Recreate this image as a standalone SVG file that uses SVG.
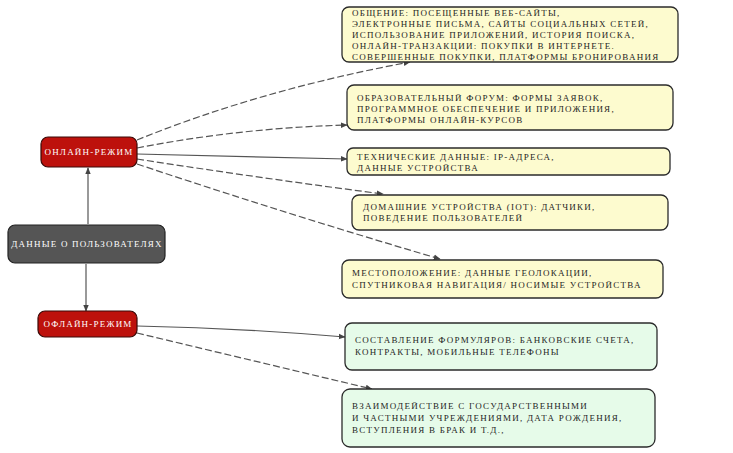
<svg xmlns="http://www.w3.org/2000/svg" width="733" height="453" viewBox="0 0 733 453">
<style>
.box{stroke:#2b2b2b;stroke-width:1.3}
.y{fill:#fdfbcf}
.g{fill:#e6fbe9}
.red{fill:#bd110c;stroke:#3a0a08;stroke-width:1.2}
.gray{fill:#555555;stroke:#222;stroke-width:1.2}
.t{font-family:"Liberation Serif","DejaVu Serif",serif;font-size:9px;letter-spacing:1.25px;fill:#1e1e1e}
.w{font-family:"Liberation Serif","DejaVu Serif",serif;font-size:9px;letter-spacing:1.2px;fill:#ffffff;text-anchor:middle}
.c{fill:none;stroke:#555;stroke-width:1.2}
.d{stroke-dasharray:7 3}
</style>
<defs>
<marker id="ah" viewBox="0 0 10 10" refX="9" refY="5" markerWidth="7" markerHeight="7" orient="auto" markerUnits="userSpaceOnUse">
<path d="M0,1 L10,5 L0,9 z" fill="#444"/>
</marker>
</defs>
<g id="connectors">
<path class="c" d="M88,224 L88,168" marker-end="url(#ah)"/>
<path class="c" d="M86,264 L86,311" marker-end="url(#ah)"/>
<path class="c d" d="M137,140 Q260,90 410,62" marker-end="url(#ah)"/>
<path class="c d" d="M137,148 Q240,128 347,125" marker-end="url(#ah)"/>
<path class="c" d="M137,154 Q240,156 347,159" marker-end="url(#ah)"/>
<path class="c d" d="M137,159 Q260,178 383,194" marker-end="url(#ah)"/>
<path class="c d" d="M137,164 Q290,215 440,259" marker-end="url(#ah)"/>
<path class="c" d="M137,326 Q240,328 345,337" marker-end="url(#ah)"/>
<path class="c d" d="M137,333 Q250,360 372,389" marker-end="url(#ah)"/>
</g>
<g id="data">
<rect class="gray" x="8" y="225" width="157" height="38" rx="7"/>
<text class="w" x="87" y="247">ДАННЫЕ О ПОЛЬЗОВАТЕЛЯХ</text>
</g>
<g id="online">
<rect class="red" x="41" y="137" width="96" height="30" rx="7"/>
<text class="w" x="89" y="155">ОНЛАЙН-РЕЖИМ</text>
</g>
<g id="offline">
<rect class="red" x="38" y="311" width="99" height="26" rx="7"/>
<text class="w" x="88" y="327">ОФЛАЙН-РЕЖИМ</text>
</g>
<g id="n1">
<rect class="box y" x="342" y="7" width="336" height="55" rx="7"/>
<text class="t" x="352" y="16">ОБЩЕНИЕ: ПОСЕЩЕННЫЕ ВЕБ-САЙТЫ,</text>
<text class="t" x="352" y="27">ЭЛЕКТРОННЫЕ ПИСЬМА, САЙТЫ СОЦИАЛЬНЫХ СЕТЕЙ,</text>
<text class="t" x="352" y="38">ИСПОЛЬЗОВАНИЕ ПРИЛОЖЕНИЙ, ИСТОРИЯ ПОИСКА,</text>
<text class="t" x="352" y="49">ОНЛАЙН-ТРАНЗАКЦИИ: ПОКУПКИ В ИНТЕРНЕТЕ.</text>
<text class="t" x="352" y="60">СОВЕРШЕННЫЕ ПОКУПКИ, ПЛАТФОРМЫ БРОНИРОВАНИЯ</text>
</g>
<g id="n2">
<rect class="box y" x="347" y="85" width="326" height="45" rx="7"/>
<text class="t" x="357" y="101">ОБРАЗОВАТЕЛЬНЫЙ ФОРУМ: ФОРМЫ ЗАЯВОК,</text>
<text class="t" x="357" y="112">ПРОГРАММНОЕ ОБЕСПЕЧЕНИЕ И ПРИЛОЖЕНИЯ,</text>
<text class="t" x="357" y="123">ПЛАТФОРМЫ ОНЛАЙН-КУРСОВ</text>
</g>
<g id="n3">
<rect class="box y" x="347" y="148" width="323" height="27" rx="6"/>
<text class="t" x="357" y="160">ТЕХНИЧЕСКИЕ ДАННЫЕ: IP-АДРЕСА,</text>
<text class="t" x="357" y="171">ДАННЫЕ УСТРОЙСТВА</text>
</g>
<g id="n4">
<rect class="box y" x="352" y="195" width="316" height="35" rx="7"/>
<text class="t" x="363" y="210">ДОМАШНИЕ УСТРОЙСТВА (IOT): ДАТЧИКИ,</text>
<text class="t" x="363" y="221">ПОВЕДЕНИЕ ПОЛЬЗОВАТЕЛЕЙ</text>
</g>
<g id="n5">
<rect class="box y" x="342" y="260" width="321" height="38" rx="7"/>
<text class="t" x="352" y="276">МЕСТОПОЛОЖЕНИЕ: ДАННЫЕ ГЕОЛОКАЦИИ,</text>
<text class="t" x="352" y="288">СПУТНИКОВАЯ НАВИГАЦИЯ/ НОСИМЫЕ УСТРОЙСТВА</text>
</g>
<g id="n6">
<rect class="box g" x="345" y="323" width="312" height="47" rx="7"/>
<text class="t" x="355" y="343">СОСТАВЛЕНИЕ ФОРМУЛЯРОВ: БАНКОВСКИЕ СЧЕТА,</text>
<text class="t" x="355" y="355">КОНТРАКТЫ, МОБИЛЬНЫЕ ТЕЛЕФОНЫ</text>
</g>
<g id="n7">
<rect class="box g" x="342" y="389" width="313" height="58" rx="8"/>
<text class="t" x="352" y="409">ВЗАИМОДЕЙСТВИЕ С ГОСУДАРСТВЕННЫМИ</text>
<text class="t" x="352" y="421">И ЧАСТНЫМИ УЧРЕЖДЕНИЯМИ, ДАТА РОЖДЕНИЯ,</text>
<text class="t" x="352" y="433">ВСТУПЛЕНИЯ В БРАК И Т.Д.,</text>
</g>
</svg>
